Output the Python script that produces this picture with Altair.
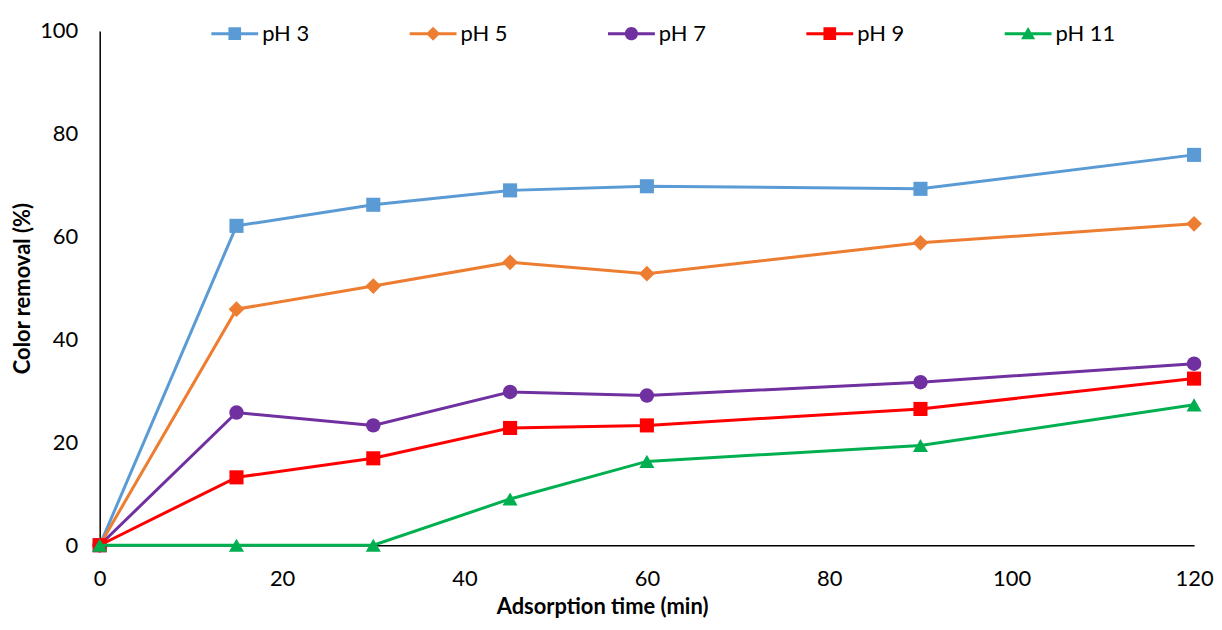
import altair as alt
import pandas as pd

times = [0, 15, 30, 45, 60, 90, 120]
series_names = ["pH 3", "pH 5", "pH 7", "pH 9", "pH 11"]
ph3 = [0, 62.1, 66.2, 69.0, 69.8, 69.3, 75.9]
ph5 = [0, 45.9, 50.4, 55.0, 52.8, 58.8, 62.5]
ph7 = [0, 25.8, 23.3, 29.8, 29.1, 31.7, 35.3]
ph9 = [0, 13.2, 16.9, 22.8, 23.3, 26.5, 32.4]
ph11 = [0, 0, 0, 9.0, 16.3, 19.4, 27.3]
values = [ph3, ph5, ph7, ph9, ph11]

colors = ["#5B9BD5", "#ED7D31", "#7030A0", "#FF0000", "#00B050"]
marker_shapes = ["square", "diamond", "circle", "square", "triangle-up"]
marker_sizes = [200, 250, 210, 200, 230]
x_ticks = [0, 20, 40, 60, 80, 100, 120]
y_ticks = [0, 20, 40, 60, 80, 100]

# legend symbols: line segment + marker (unit box -1..1)
legend_paths = [
    "M-1,-0.064H1V0.064H-1Z M-0.27,-0.27H0.27V0.27H-0.27Z",
    "M-1,-0.064H1V0.064H-1Z M0,-0.3L0.3,0L0,0.3L-0.3,0Z",
    "M-1,-0.064H1V0.064H-1Z M-0.28,0A0.28,0.28 0 1,1 0.28,0A0.28,0.28 0 1,1 -0.28,0Z",
    "M-1,-0.064H1V0.064H-1Z M-0.27,-0.27H0.27V0.27H-0.27Z",
    "M-1,-0.064H1V0.064H-1Z M0,-0.28L0.3,0.24L-0.3,0.24Z",
]

rows = []
for name, vals in zip(series_names, values):
    for t, v in zip(times, vals):
        rows.append({"series": name, "time": t, "removal": v})
df = pd.DataFrame(rows)

x_enc = alt.X(
    "time:Q",
    scale=alt.Scale(domain=[0, 120], nice=False),
    axis=alt.Axis(
        values=x_ticks, title="Adsorption time (min)", labelPadding=40,
        labelBaseline="alphabetic", labelFlush=False, labelOverlap=False,
        titleX=504, titleY=68, titleBaseline="alphabetic", titleAlign="center",
    ),
)
y_enc = alt.Y(
    "removal:Q",
    scale=alt.Scale(domain=[0, 100], nice=False),
    axis=alt.Axis(
        values=y_ticks, title="Color removal (%)", labelPadding=22,
        labelFlush=False, labelOverlap=False,
        titleX=-70, titleY=258, titleAngle=270, titleBaseline="alphabetic",
        titleAlign="center",
    ),
)

leg = alt.Legend(
    orient="none", legendX=112, legendY=-21, direction="horizontal",
    columns=5, title=None, symbolSize=2209, symbolStrokeWidth=0,
    labelFont="Lato", labelFontSize=22, labelColor="black", labelOffset=4,
    columnPadding=100, padding=0, labelLimit=300,
)
legend_layer = alt.Chart(df).transform_filter("datum.time < 0").mark_point(
    filled=True, opacity=1
).encode(
    x=x_enc, y=y_enc,
    color=alt.Color("series:N", scale=alt.Scale(domain=series_names, range=colors), legend=leg),
    shape=alt.Shape("series:N", scale=alt.Scale(domain=series_names, range=legend_paths), legend=leg),
)

layers = [legend_layer]
for i, name in enumerate(series_names):
    base = alt.Chart(df).transform_filter(alt.datum.series == name)
    line = base.mark_line(strokeWidth=3, color=colors[i]).encode(x=x_enc, y=y_enc)
    pts = base.mark_point(
        filled=True, opacity=1, shape=marker_shapes[i], size=marker_sizes[i],
        color=colors[i],
    ).encode(x=x_enc, y=y_enc)
    layers += [line, pts]

chart = alt.layer(*layers).properties(
    width=1098, height=516,
    autosize=alt.AutoSizeParams(type="none"),
    padding={"left": 92, "top": 22, "right": 20, "bottom": 74},
).configure_view(stroke=None).configure_axis(
    grid=False, domainColor="black", domainWidth=1.5, ticks=False, tickSize=0,
    labelFont="Lato", labelFontSize=22, labelColor="black",
    titleFont="Lato", titleFontSize=22, titleFontWeight="bold", titleColor="black",
)

chart.save("out.html", embed_options={"renderer": "svg", "actions": False})
